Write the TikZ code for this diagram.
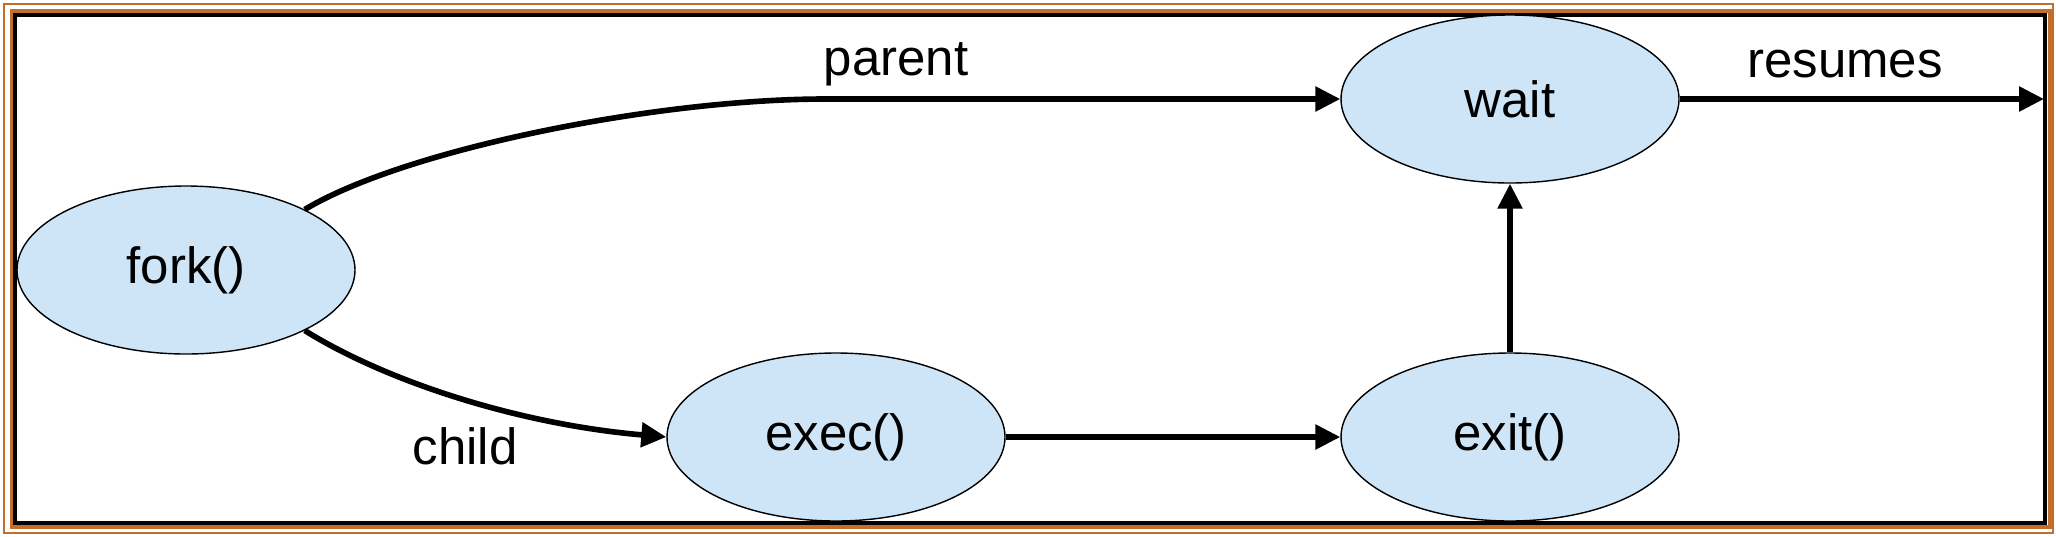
\documentclass[tikz,border=0pt]{standalone}
\usepackage{fontspec}
\setmainfont{Liberation Sans}
\usetikzlibrary{shapes.geometric,arrows.meta}
\definecolor{procblue}{RGB}{206,229,247}
\definecolor{frameorange}{RGB}{196,110,46}

\begin{document}
\begin{tikzpicture}[
    proc/.style={draw,line width=0.4pt,fill=procblue,ellipse,inner sep=0pt,
      minimum width=3.38cm,minimum height=1.68cm,font=\fontsize{14.5}{17}\selectfont},
    arr/.style={line width=1.6pt,-{Triangle[length=0.25cm,width=0.24cm]}},
    lbl/.style={font=\fontsize{14.5}{17}\selectfont}]
          \useasboundingbox (0,0) rectangle (20.56,5.36);
          \draw[frameorange,line width=0.6pt] (0.04,0.03) rectangle (20.53,5.32);
          \draw[frameorange,line width=0.9pt] (0.115,0.09) rectangle (20.50,5.25);
          \draw[black,line width=0.9pt] (0.15,0.13) rectangle (20.45,5.21);
          \node[proc] (Fork) at (1.86,2.66) {fork()};
          \node[proc] (Wait) at (15.10,4.37) {wait};
          \node[proc] (Exec) at (8.36,0.99) {exec()};
          \node[proc] (Exit) at (15.10,0.99) {exit()};
          \coordinate (Bend) at (8.26,4.37);
          \coordinate (Out) at (20.44,4.37);
          \draw[arr] (Fork.27) .. controls +(1.0,0.6) and +(-1.7,0) .. (Bend) -- (Wait.west);
          \draw[arr] (Fork.-27) .. controls +(0.8,-0.5) and +(-1.5,0.13) .. (Exec.west);
          \draw[arr] (Exec) -- (Exit);
          \draw[arr] (Exit) -- (Wait);
          \draw[arr] (Wait) -- (Out);
          \node[lbl] at (8.96,4.72) {parent};
          \node[lbl] at (18.45,4.72) {resumes};
          \node[lbl] at (4.65,0.90) {child};
        \end{tikzpicture}
\end{document}
